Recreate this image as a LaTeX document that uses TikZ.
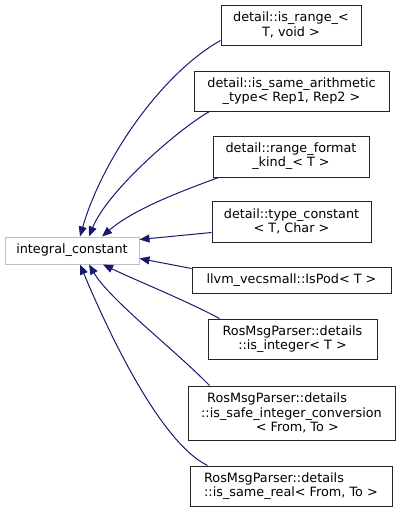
\documentclass[tikz,border=0pt]{standalone}
\usepackage{fontspec}
\setmainfont{DejaVu Sans}
\usetikzlibrary{arrows.meta,calc}
\definecolor{edgeblue}{HTML}{191970}
\definecolor{icgray}{HTML}{BFBFBF}
\begin{document}
\begin{tikzpicture}[x=0.75pt,y=-0.75pt,
  cls/.style={draw=black!85, line width=0.75pt, fill=white, inner sep=0pt, align=center,
    font=\fontsize{9.6}{10.7}\selectfont},
  edge/.style={draw=edgeblue, line width=0.75pt, -{Triangle[length=7.5pt,width=6pt]}}]
\useasboundingbox (0,0) rectangle (400,512);
\fill[white] (0,0) rectangle (400,512);

\node[cls, minimum width=105pt, minimum height=30pt] (b1) at (291,25) {detail::is\_range\_<\\T, void >};
\node[cls, minimum width=146.25pt, minimum height=30pt] (b2) at (291.5,91) {detail::is\_same\_arithmetic\\\_type< Rep1, Rep2 >};
\node[cls, minimum width=117pt, minimum height=30.75pt] (b3) at (291,156.5) {detail::range\_format\\\_kind\_< T >};
\node[cls, minimum width=119.25pt, minimum height=30.75pt] (b4) at (291.5,221.5) {detail::type\_constant\\< T, Char >};
\node[cls, draw=icgray, minimum width=100.5pt, minimum height=20.25pt] (ic) at (72,250.5) {integral\_constant};
\node[cls, minimum width=149.25pt, minimum height=19.5pt] (b5) at (291.5,280) {llvm\_vecsmall::IsPod< T >};
\node[cls, minimum width=126.75pt, minimum height=30pt] (b6) at (292.5,339) {RosMsgParser::details\\::is\_integer< T >};
\node[cls, align=left, minimum width=155.25pt, minimum height=40.5pt] (b7) at (291.5,413) {\hspace*{4.5pt}RosMsgParser::details\\::is\_safe\_integer\_conversion\\\hspace*{41pt}< From, To >};
\node[cls, align=left, minimum width=151.5pt, minimum height=30pt] (b8) at (291,486) {RosMsgParser::details\\::is\_same\_real< From, To >};

\draw[edge] ($(b1.south west)+(0,-5)$) .. controls (161,74) and (102,160) .. ($(ic.north)+(8,0)$);
\draw[edge] ($(b2.south west)+(16,0)$) .. controls (180,128) and (108,190) .. ($(ic.north)+(17,0)$);
\draw[edge] ($(b3.south west)+(6,0)$) .. controls (185,190) and (135,208) .. ($(ic.north)+(30,0)$);
\draw[edge] ($(b4.south west)+(0,-10)$) -- ($(ic.north east)+(0,3)$);
\draw[edge] ($(b5.north west)+(0,2)$) -- ($(ic.south east)+(0,-6)$);
\draw[edge] ($(b6.north west)+(12,0)$) .. controls (185,300) and (135,280) .. ($(ic.south)+(31,0)$);
\draw[edge] ($(b7.north west)+(22,0)$) .. controls (175,350) and (110,300) .. ($(ic.south)+(17,0)$);
\draw[edge] ($(b8.north west)+(18,0)$) .. controls (158,441) and (105,324) .. ($(ic.south)+(8,0)$);
\end{tikzpicture}
\end{document}
